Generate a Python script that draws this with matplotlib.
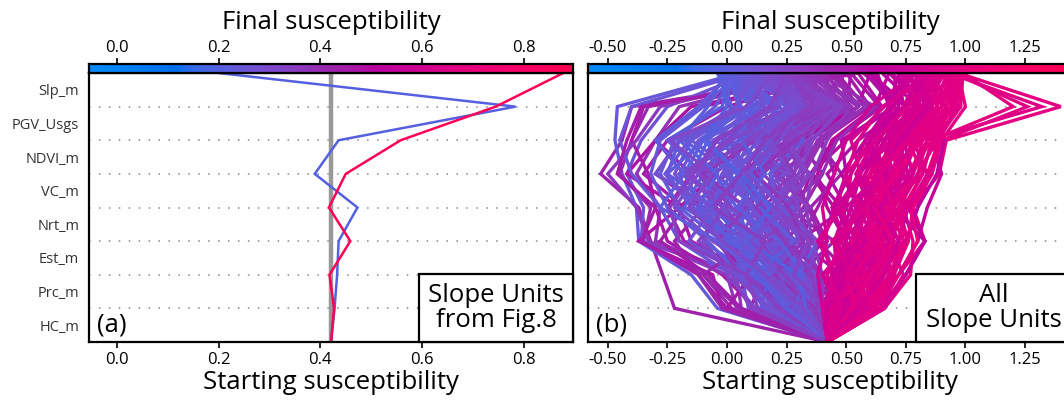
import numpy as np
import matplotlib
matplotlib.use("Agg")
import matplotlib.pyplot as plt
from matplotlib.colors import LinearSegmentedColormap, Normalize
from matplotlib.ticker import FormatStrFormatter

plt.rcParams['font.family'] = ['Open Sans', 'DejaVu Sans']

# ---------------- data ----------------
features = ["HC_m", "Prc_m", "Est_m", "Nrt_m", "VC_m", "NDVI_m", "PGV_Usgs", "Slp_m"]  # bottom -> top
base_value = 0.421

# panel (a): cumulative susceptibility after each feature (bottom -> top)
fig8_unit_blue = [0.428, 0.433, 0.436, 0.473, 0.389, 0.436, 0.784, 0.200]
fig8_unit_red = [0.427, 0.418, 0.459, 0.417, 0.450, 0.558, 0.745, 0.878]

# panel (b): cumulative susceptibility paths of slope units
extreme_paths = [
    [-0.22, -0.27, -0.32, -0.37, -0.53, -0.44, -0.40, 0.45],
    [-0.04, -0.15, -0.37, -0.38, -0.44, -0.47, -0.46, 0.05],
    [0.02, -0.10, -0.35, -0.32, -0.45, -0.40, -0.33, 0.40],
    [0.06, 0.04, -0.30, -0.28, -0.38, -0.30, -0.20, 0.35],
    [0.09, 0.06, -0.36, -0.35, -0.42, -0.36, -0.25, 0.10],
    [0.12, -0.02, -0.25, -0.30, -0.33, -0.40, -0.35, 0.50],
    [-0.02, -0.06, -0.37, -0.20, -0.42, -0.30, -0.15, 0.55],
    [0.04, 0.00, -0.33, -0.38, -0.50, -0.38, -0.28, 0.30],
    [0.10, 0.02, -0.20, -0.28, -0.40, -0.45, -0.40, 0.08],
    [0.00, -0.12, -0.36, -0.30, -0.46, -0.42, -0.36, 0.48],
    [0.62, 0.72, 0.83, 0.78, 0.89, 0.92, 1.40, 0.97],
    [0.58, 0.68, 0.75, 0.80, 0.85, 0.90, 1.26, 0.95],
    [0.66, 0.77, 0.78, 0.74, 0.82, 0.86, 1.20, 0.99],
    [0.60, 0.70, 0.76, 0.72, 0.80, 0.84, 1.32, 0.93],
    [0.64, 0.75, 0.83, 0.70, 0.65, 0.60, 0.70, 0.62],
    [0.55, 0.62, 0.75, 0.80, 0.88, 0.91, 0.80, 0.65],
    [0.66, 0.70, 0.72, 0.76, 0.70, 0.72, 0.76, 0.60],
    [0.66, 0.75, 0.83, 0.76, 0.86, 0.88, 0.82, 0.68],
    [0.60, 0.72, 0.80, 0.84, 0.90, 0.86, 0.92, 0.72],
]
purple_paths = [
    [0.30, 0.25, 0.35, 0.30, 0.25, 0.35, 0.55, 0.45],
    [0.45, 0.40, 0.30, 0.38, 0.45, 0.40, 0.60, 0.50],
    [0.25, 0.15, 0.20, 0.30, 0.35, 0.45, 0.65, 0.55],
    [0.50, 0.45, 0.40, 0.34, 0.28, 0.32, 0.48, 0.40],
    [0.20, 0.10, -0.05, 0.05, 0.15, 0.25, 0.50, 0.48],
    [0.35, 0.30, 0.40, 0.45, 0.50, 0.48, 0.70, 0.60],
    [0.40, 0.45, 0.50, 0.42, 0.38, 0.44, 0.62, 0.68],
    [0.05, -0.10, 0.10, -0.15, 0.00, 0.20, 0.45, 0.40],
    [0.45, 0.30, 0.45, 0.25, 0.40, 0.30, 0.60, 0.42],
    [0.00, 0.10, -0.15, -0.20, -0.05, 0.10, 0.50, 0.52],
    [0.52, 0.40, 0.55, 0.45, 0.35, 0.50, 0.70, 0.58],
    [0.28, 0.40, 0.25, 0.15, 0.30, 0.40, 0.35, 0.38],
    [-0.02, -0.12, -0.22, -0.10, -0.30, -0.20, 0.10, 0.44],
    [0.10, 0.15, -0.18, -0.25, -0.15, -0.30, -0.10, 0.50],
    [0.35, 0.48, 0.30, 0.50, 0.42, 0.55, 0.75, 0.57],
    [0.06, -0.08, -0.28, -0.18, -0.35, -0.25, 0.00, 0.46],
    [0.48, 0.36, 0.22, 0.32, 0.40, 0.30, 0.52, 0.41],
    [0.42, 0.52, 0.38, 0.48, 0.36, 0.46, 0.64, 0.52],
    [0.32, 0.20, 0.42, 0.35, 0.48, 0.38, 0.58, 0.46],
    [0.16, 0.08, 0.02, -0.10, 0.10, 0.30, 0.55, 0.60],
    [0.55, 0.50, 0.46, 0.55, 0.48, 0.58, 0.68, 0.63],
    [0.38, 0.28, 0.18, 0.26, 0.40, 0.46, 0.62, 0.38],
]
blue_paths = [
    [0.38, 0.30, 0.22, 0.10, 0.05, 0.12, 0.30, 0.05],
    [0.35, 0.25, 0.15, -0.05, -0.10, 0.00, 0.20, 0.02],
    [0.40, 0.36, 0.30, 0.25, 0.18, 0.26, 0.40, 0.15],
    [0.33, 0.20, 0.05, -0.15, -0.25, -0.20, 0.05, 0.00],
    [0.30, 0.18, 0.10, 0.02, -0.08, 0.05, 0.35, 0.10],
    [0.41, 0.38, 0.34, 0.30, 0.28, 0.35, 0.50, 0.25],
    [0.36, 0.28, 0.12, 0.08, 0.15, 0.22, 0.45, 0.20],
    [0.28, 0.12, 0.00, -0.10, -0.18, -0.10, 0.15, -0.02],
    [0.39, 0.33, 0.25, 0.18, 0.10, 0.16, 0.28, 0.08],
    [0.34, 0.26, 0.20, 0.14, 0.22, 0.30, 0.48, 0.30],
    [0.25, 0.10, -0.02, -0.20, -0.28, -0.22, -0.05, 0.03],
    [0.37, 0.32, 0.28, 0.20, 0.30, 0.38, 0.55, 0.35],
    [0.32, 0.22, 0.08, 0.00, 0.02, 0.10, 0.25, 0.12],
    [0.40, 0.40, 0.36, 0.33, 0.36, 0.42, 0.52, 0.28],
    [0.22, 0.05, -0.08, -0.25, -0.32, -0.28, -0.10, 0.05],
    [0.31, 0.20, 0.16, 0.05, 0.12, 0.18, 0.38, 0.18],
    [0.38, 0.34, 0.20, 0.12, 0.00, 0.08, 0.22, 0.06],
    [0.29, 0.15, 0.04, -0.08, -0.02, 0.05, 0.18, 0.14],
    [0.36, 0.29, 0.24, 0.16, 0.08, 0.20, 0.42, 0.22],
    [0.33, 0.24, 0.10, 0.04, -0.05, -0.02, 0.12, -0.03],
    [0.27, 0.14, 0.02, -0.12, -0.22, -0.15, 0.08, 0.16],
    [0.39, 0.35, 0.31, 0.26, 0.20, 0.28, 0.33, 0.10],
    [0.35, 0.27, 0.18, 0.10, 0.14, 0.25, 0.46, 0.32],
    [0.20, 0.08, 0.00, -0.15, -0.20, -0.12, 0.10, 0.08],
    [0.37, 0.31, 0.26, 0.22, 0.26, 0.32, 0.36, 0.12],
    [0.30, 0.20, 0.12, -0.02, -0.12, -0.05, 0.28, 0.25],
    [0.41, 0.37, 0.32, 0.28, 0.32, 0.40, 0.58, 0.34],
    [0.26, 0.16, 0.06, -0.05, -0.15, -0.08, 0.02, -0.04],
    [0.34, 0.22, 0.14, 0.06, 0.10, 0.14, 0.32, 0.20],
    [0.38, 0.29, 0.22, 0.15, 0.06, 0.02, 0.14, 0.04],
    [0.30, 0.05, 0.20, -0.10, 0.15, -0.05, 0.35, 0.10],
    [0.18, 0.25, 0.00, 0.10, -0.20, 0.05, 0.25, 0.00],
    [0.36, 0.15, 0.30, 0.05, 0.25, 0.00, 0.42, 0.18],
    [0.25, 0.30, 0.10, 0.20, 0.00, 0.20, 0.10, -0.02],
    [0.40, 0.20, 0.35, 0.15, 0.05, 0.30, 0.50, 0.30],
    [0.12, 0.00, 0.15, -0.05, -0.15, 0.10, 0.30, 0.22],
    [0.33, 0.38, 0.18, 0.28, 0.10, 0.15, 0.05, 0.04],
    [0.22, 0.12, 0.25, 0.00, 0.10, -0.10, 0.18, 0.06],
    [0.38, 0.25, 0.10, 0.25, 0.35, 0.20, 0.38, 0.26],
    [0.28, 0.35, 0.15, -0.05, 0.05, 0.25, 0.45, 0.33],
    [0.15, 0.10, -0.10, -0.05, -0.25, -0.10, 0.00, 0.02],
    [0.35, 0.18, 0.28, 0.12, 0.20, 0.10, 0.30, 0.14],
    [0.26, 0.08, 0.18, 0.30, 0.15, 0.30, 0.48, 0.28],
    [0.41, 0.30, 0.38, 0.22, 0.12, 0.22, 0.20, 0.00],
    [0.20, 0.22, 0.05, 0.12, -0.05, 0.08, 0.28, 0.12],
    [0.32, 0.10, 0.05, -0.18, -0.10, -0.25, -0.02, 0.01],
    [0.37, 0.40, 0.25, 0.35, 0.22, 0.40, 0.55, 0.36],
    [0.10, 0.02, -0.12, 0.00, -0.18, 0.00, 0.20, 0.24],
    [0.29, 0.18, 0.32, 0.18, 0.28, 0.15, 0.34, 0.16],
    [0.34, 0.28, 0.12, 0.22, 0.18, 0.32, 0.22, 0.03],
    [0.24, 0.20, 0.08, -0.02, 0.08, 0.02, 0.15, 0.09],
    [0.39, 0.22, 0.16, 0.08, -0.12, -0.05, 0.10, 0.07],
    [0.31, 0.26, 0.36, 0.20, 0.32, 0.24, 0.40, 0.27],
    [0.17, 0.05, 0.12, -0.08, 0.05, -0.15, 0.05, 0.05],
    [0.36, 0.32, 0.20, 0.30, 0.26, 0.18, 0.35, 0.19],
    [0.34, 0.12, 0.26, 0.02, -0.12, 0.08, 0.38, 0.24],
    [0.21, 0.28, 0.14, -0.08, 0.02, -0.18, 0.12, 0.02],
    [0.39, 0.26, 0.06, 0.18, -0.02, 0.14, 0.26, 0.09],
    [0.27, 0.06, -0.04, 0.08, -0.10, 0.12, 0.44, 0.31],
    [0.36, 0.34, 0.38, 0.24, 0.34, 0.26, 0.46, 0.21],
    [0.14, 0.18, 0.02, -0.12, -0.04, -0.20, -0.08, -0.01],
    [0.31, 0.14, 0.22, 0.10, 0.00, 0.18, 0.16, 0.11],
    [0.40, 0.32, 0.16, 0.06, 0.24, 0.12, 0.30, 0.13],
    [0.23, 0.16, -0.06, -0.22, -0.12, -0.06, 0.22, 0.17],
    [0.37, 0.20, 0.32, 0.26, 0.12, 0.28, 0.52, 0.33],
    [0.29, 0.32, 0.22, 0.04, 0.16, 0.06, 0.10, 0.01],
    [0.16, 0.04, 0.08, -0.14, -0.26, -0.16, 0.04, 0.07],
    [0.35, 0.24, 0.14, 0.34, 0.20, 0.34, 0.42, 0.26],
    [0.25, 0.12, 0.28, 0.14, 0.04, -0.08, 0.06, 0.00],
    [0.38, 0.36, 0.24, 0.12, 0.28, 0.20, 0.36, 0.29],
    [0.19, 0.02, -0.10, -0.02, -0.16, 0.02, 0.26, 0.19],
    [0.33, 0.30, 0.08, 0.18, 0.06, -0.10, 0.00, -0.03],
    [0.41, 0.28, 0.34, 0.20, 0.30, 0.36, 0.48, 0.23],
    [0.28, 0.22, 0.10, 0.24, 0.08, 0.22, 0.32, 0.15],
    [0.22, 0.08, 0.16, -0.06, 0.06, 0.16, 0.34, 0.27],
    [0.26, 0.14, -0.04, -0.28, -0.18, -0.30, -0.12, 0.02],
    [0.18, 0.06, -0.16, -0.06, -0.30, -0.20, 0.04, 0.12],
    [0.32, 0.16, -0.02, -0.16, -0.06, -0.24, 0.08, 0.20],
    [0.13, 0.08, -0.20, -0.24, -0.14, -0.04, 0.18, 0.25],
]
pink_paths = [
    [0.48, 0.55, 0.60, 0.65, 0.70, 0.75, 0.85, 0.90],
    [0.45, 0.50, 0.52, 0.58, 0.62, 0.70, 0.80, 0.85],
    [0.52, 0.58, 0.66, 0.70, 0.78, 0.82, 0.92, 0.95],
    [0.44, 0.47, 0.50, 0.48, 0.55, 0.62, 0.75, 0.80],
    [0.55, 0.62, 0.70, 0.68, 0.74, 0.80, 0.88, 0.92],
    [0.46, 0.52, 0.56, 0.62, 0.66, 0.68, 0.78, 0.75],
    [0.50, 0.54, 0.58, 0.60, 0.64, 0.72, 0.86, 0.88],
    [0.43, 0.46, 0.45, 0.50, 0.52, 0.58, 0.70, 0.78],
    [0.58, 0.65, 0.72, 0.75, 0.82, 0.86, 0.95, 0.97],
    [0.47, 0.51, 0.57, 0.54, 0.60, 0.66, 0.74, 0.82],
    [0.53, 0.60, 0.62, 0.66, 0.72, 0.78, 0.90, 0.93],
    [0.45, 0.49, 0.53, 0.56, 0.58, 0.64, 0.68, 0.72],
    [0.60, 0.68, 0.74, 0.72, 0.80, 0.88, 0.98, 0.96],
    [0.49, 0.56, 0.64, 0.68, 0.70, 0.74, 0.82, 0.86],
    [0.44, 0.48, 0.47, 0.52, 0.56, 0.60, 0.72, 0.70],
    [0.51, 0.57, 0.61, 0.64, 0.68, 0.76, 0.84, 0.91],
    [0.56, 0.63, 0.68, 0.74, 0.76, 0.84, 0.92, 0.94],
    [0.46, 0.50, 0.55, 0.58, 0.63, 0.69, 0.76, 0.84],
    [0.62, 0.70, 0.76, 0.78, 0.86, 0.90, 1.00, 0.97],
    [0.48, 0.53, 0.59, 0.63, 0.67, 0.71, 0.80, 0.77],
    [0.43, 0.45, 0.50, 0.54, 0.60, 0.66, 0.78, 0.87],
    [0.54, 0.59, 0.65, 0.70, 0.73, 0.79, 0.86, 0.89],
    [0.50, 0.48, 0.54, 0.57, 0.62, 0.70, 0.83, 0.79],
    [0.64, 0.72, 0.80, 0.77, 0.84, 0.89, 0.96, 0.98],
    [0.40, 0.38, 0.42, 0.40, 0.45, 0.50, 0.60, 0.80],
    [0.42, 0.44, 0.40, 0.46, 0.50, 0.55, 0.65, 0.88],
    [0.55, 0.48, 0.62, 0.55, 0.70, 0.65, 0.85, 0.80],
    [0.62, 0.58, 0.70, 0.62, 0.72, 0.80, 0.95, 0.92],
    [0.45, 0.55, 0.48, 0.62, 0.55, 0.70, 0.78, 0.85],
    [0.58, 0.50, 0.64, 0.58, 0.66, 0.60, 0.74, 0.72],
    [0.50, 0.62, 0.55, 0.70, 0.62, 0.78, 0.90, 0.96],
    [0.65, 0.60, 0.72, 0.66, 0.78, 0.74, 0.88, 0.86],
    [0.42, 0.50, 0.58, 0.50, 0.64, 0.58, 0.70, 0.76],
    [0.60, 0.66, 0.58, 0.68, 0.60, 0.72, 0.84, 0.94],
    [0.47, 0.44, 0.56, 0.64, 0.58, 0.66, 0.82, 0.90],
    [0.66, 0.74, 0.68, 0.76, 0.84, 0.78, 0.90, 0.88],
    [0.52, 0.46, 0.52, 0.46, 0.56, 0.64, 0.72, 0.74],
    [0.57, 0.64, 0.76, 0.70, 0.76, 0.86, 0.98, 0.99],
    [0.44, 0.52, 0.46, 0.56, 0.66, 0.62, 0.76, 0.83],
    [0.63, 0.56, 0.66, 0.74, 0.68, 0.80, 0.92, 0.95],
    [0.49, 0.58, 0.68, 0.60, 0.72, 0.68, 0.80, 0.81],
    [0.54, 0.50, 0.60, 0.66, 0.60, 0.74, 0.86, 0.93],
    [0.46, 0.42, 0.50, 0.44, 0.52, 0.60, 0.68, 0.78],
    [0.61, 0.69, 0.62, 0.72, 0.78, 0.84, 0.94, 0.97],
    [0.40, 0.46, 0.38, 0.48, 0.56, 0.52, 0.66, 0.84],
    [0.59, 0.52, 0.70, 0.64, 0.74, 0.70, 0.82, 0.87],
    [0.53, 0.66, 0.60, 0.74, 0.68, 0.82, 0.94, 0.91],
    [0.47, 0.40, 0.52, 0.60, 0.54, 0.62, 0.80, 0.86],
    [0.60, 0.55, 0.68, 0.60, 0.76, 0.72, 0.86, 0.82],
    [0.44, 0.58, 0.52, 0.66, 0.60, 0.76, 0.88, 0.95],
    [0.56, 0.70, 0.64, 0.58, 0.72, 0.80, 0.92, 0.98],
    [0.50, 0.44, 0.58, 0.52, 0.66, 0.72, 0.84, 0.76],
    [0.63, 0.60, 0.74, 0.68, 0.82, 0.76, 0.90, 0.94],
    [0.45, 0.53, 0.44, 0.58, 0.64, 0.70, 0.82, 0.89],
    [0.58, 0.62, 0.54, 0.64, 0.74, 0.66, 0.80, 0.84],
    [0.52, 0.60, 0.70, 0.62, 0.70, 0.82, 0.96, 0.97],
    [0.41, 0.48, 0.54, 0.48, 0.58, 0.66, 0.74, 0.81],
    [0.65, 0.68, 0.60, 0.70, 0.80, 0.88, 0.97, 0.92],
    [0.48, 0.42, 0.48, 0.56, 0.50, 0.62, 0.76, 0.88],
    [0.55, 0.66, 0.72, 0.64, 0.78, 0.74, 0.84, 0.79],
    [0.61, 0.54, 0.62, 0.70, 0.64, 0.76, 0.94, 0.96],
]

ticks_a = [0.0, 0.2, 0.4, 0.6, 0.8]
ticks_b = [-0.50, -0.25, 0.00, 0.25, 0.50, 0.75, 1.00, 1.25]
xlim_a = (-0.055, 0.897)
xlim_b = (-0.583, 1.447)


# ---------------- colormap (red-blue in LCH space) ----------------
def lch2rgb(l, c, h):
    a = c * np.cos(h)
    b = c * np.sin(h)
    fy = (l + 16) / 116.0
    fx = fy + a / 500.0
    fz = fy - b / 200.0

    def finv(t):
        return t ** 3 if t ** 3 > 0.008856 else (t - 16 / 116.0) / 7.787

    X = 0.95047 * finv(fx)
    Y = 1.0 * finv(fy)
    Z = 1.08883 * finv(fz)
    M = np.array([[3.2406, -1.5372, -0.4986],
                  [-0.9689, 1.8758, 0.0415],
                  [0.0557, -0.2040, 1.0570]])
    rgb = M @ np.array([X, Y, Z])
    out = []
    for v in rgb:
        if v > 0.0031308:
            out.append(1.055 * v ** (1 / 2.4) - 0.055)
        else:
            out.append(12.92 * v)
    return np.clip(out, 0, 1)


nsteps = 100
l_vals = list(np.linspace(54., 40., nsteps // 2)) + list(np.linspace(40., 54., nsteps // 2))
c_vals = np.linspace(70., 90., nsteps)
h_vals = np.linspace(4.6588, 0.35470565 + 2 * np.pi, nsteps)
cols = [lch2rgb(l, c, h) for l, c, h in zip(l_vals, c_vals, h_vals)]
cmap = LinearSegmentedColormap.from_list("red_blue", cols)

# ---------------- figure ----------------
W, H = 1064, 403
fig = plt.figure(figsize=(W / 100, H / 100), dpi=100)


def px_axes(x0, y0, x1, y1):
    return fig.add_axes([x0 / W, 1 - y1 / H, (x1 - x0) / W, (y1 - y0) / H])


TICK_FS = 12
LABEL_FS = 18.5


def make_panel(x0, x1, xlim, ticks, fmt, paths, show_ylabels, letter, boxtext, box_x0,
               lw, show_base):
    ax = px_axes(x0, 73, x1, 342)
    cax = px_axes(x0, 64, x1, 73)
    norm = Normalize(xlim[0], xlim[1])
    nlev = len(features)
    ypos = np.arange(nlev + 1)
    if show_base:
        ax.axvline(base_value, color="#999999", lw=3.2, zorder=1)
    for p in paths:
        xs = [base_value] + list(p)
        ax.plot(xs, ypos, color=cmap(norm(p[-1])), lw=lw, zorder=2,
                solid_joinstyle="miter")
    for k in range(1, nlev):
        ax.axhline(k, color="#888888", lw=1.1, dashes=(1, 5.5), zorder=0)
    ax.set_xlim(*xlim)
    ax.set_ylim(0, nlev)
    ax.set_xticks(ticks)
    ax.xaxis.set_major_formatter(FormatStrFormatter(fmt))
    ax.tick_params(axis="x", direction="out", length=4, width=1.2, labelsize=TICK_FS,
                   pad=3, colors="black")
    ax.set_yticks(ypos[:-1] + 0.5)
    if show_ylabels:
        ax.set_yticklabels(features, fontsize=10.5, color="#333333")
    else:
        ax.set_yticklabels([])
    ax.tick_params(axis="y", length=0, pad=7)
    for s in ax.spines.values():
        s.set_linewidth(1.6)
        s.set_color("black")

    grad = np.linspace(0, 1, 256).reshape(1, -1)
    cax.imshow(grad, aspect="auto", cmap=cmap, extent=[xlim[0], xlim[1], 0, 1])
    cax.set_xlim(*xlim)
    cax.set_yticks([])
    cax.set_xticks(ticks)
    cax.xaxis.set_major_formatter(FormatStrFormatter(fmt))
    cax.xaxis.tick_top()
    cax.tick_params(axis="x", direction="out", length=4, width=1.2, labelsize=TICK_FS,
                    pad=2, colors="black")
    for s in cax.spines.values():
        s.set_linewidth(1.6)
        s.set_color("black")

    cx = (x0 + x1) / 2
    fig.text(cx / W, 1 - 29 / H, "Final susceptibility", ha="center", va="baseline",
             fontsize=LABEL_FS)
    fig.text(cx / W, 1 - 389 / H, "Starting susceptibility", ha="center", va="baseline",
             fontsize=LABEL_FS)

    ax.text(x0 / W + 8 / W, 1 - 331 / H, letter, transform=fig.transFigure,
            ha="left", va="baseline", fontsize=LABEL_FS)
    bx = box_x0
    rect = plt.Rectangle((bx / W, 1 - 342 / H), (x1 - bx) / W, (342 - 274) / H,
                         transform=fig.transFigure, facecolor="white",
                         edgecolor="black", lw=1.6, zorder=5)
    fig.add_artist(rect)
    fig.text((bx + x1) / 2 / W, 1 - 308 / H, boxtext, ha="center", va="center",
             fontsize=LABEL_FS, linespacing=0.95, zorder=6)
    return ax


make_panel(89, 573, xlim_a, ticks_a, "%.1f", [fig8_unit_blue, fig8_unit_red], True,
           "(a)", "Slope Units\nfrom Fig.8", 419, 1.8, True)

all_paths = extreme_paths + purple_paths + blue_paths + pink_paths
make_panel(588, 1072, xlim_b, ticks_b, "%.2f", all_paths, False,
           "(b)", "All\nSlope Units", 916, 2.4, False)

fig.savefig("out.png", dpi=100)
